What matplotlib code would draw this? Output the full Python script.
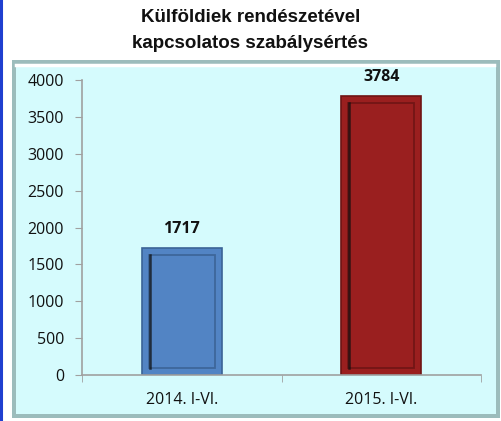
import matplotlib
matplotlib.use("Agg")
import matplotlib.pyplot as plt
from matplotlib.patches import Rectangle
import matplotlib.lines as mlines

categories = ["2014. I-VI.", "2015. I-VI."]
values = [1717, 3784]
bar_colors = ["#5284c4", "#9a1f1f"]
edge_colors = ["#3b6396", "#6e1414"]
yticks = [0, 500, 1000, 1500, 2000, 2500, 3000, 3500, 4000]
title_lines = ["Külföldiek rendészetével", "kapcsolatos szabálysértés"]

W, H = 501, 421
fig = plt.figure(figsize=(W / 100, H / 100), dpi=100)
fig.patch.set_facecolor("white")

# left blue border line
fig.add_artist(mlines.Line2D([1 / W, 1 / W], [0, 1], transform=fig.transFigure,
                             color="#1f3fd0", lw=2.2, zorder=-1))

# panel (beveled)
px0, py0, px1, py1 = 12, 3, 500, 361
shadow = Rectangle((px0 / W, py0 / H), (px1 - px0) / W, (py1 - py0) / H,
                   transform=fig.transFigure, facecolor="#9cbcbc", edgecolor="none", zorder=-3)
fig.add_artist(shadow)
panel = Rectangle(((px0 + 4) / W, (py0 + 4) / H), (px1 - px0 - 8) / W, (py1 - py0 - 8) / H,
                  transform=fig.transFigure, facecolor="#d5fbfd", edgecolor="none", zorder=-2)
fig.add_artist(panel)
hl = mlines.Line2D([(px0 + 4) / W, (px1 - 6) / W], [(py1 - 5) / H, (py1 - 5) / H],
                   transform=fig.transFigure, color="white", lw=2.5, zorder=-1)
fig.add_artist(hl)

for yy, line in zip([17, 44], title_lines):
    fig.text(0.5, 1 - yy / H, line, ha="center", va="center", fontsize=13.5,
             fontweight="bold", family="Liberation Sans", color="#111111")

ax = fig.add_axes([82 / W, (H - 375) / H, 399 / W, 295 / H])
ax.set_zorder(5)
ax.set_facecolor("none")
x = list(range(len(categories)))
bars = ax.bar(x, values, width=0.4, color=bar_colors, edgecolor=edge_colors, linewidth=1.2, zorder=2)
ax.set_xlim(-0.5, len(categories) - 0.5)
ax.set_ylim(0, 4000)
ax.set_yticks(yticks)
ax.set_yticklabels([str(t) for t in yticks])
ax.set_xticks(x)
ax.set_xticklabels(categories)
ax.set_xticks([-0.5, 0.5, 1.5], minor=True)
ax.tick_params(axis="x", which="major", length=0, pad=12)
ax.tick_params(axis="x", which="minor", length=5, color="#a0a0a0", direction="out")
ax.tick_params(axis="y", length=5, color="#a0a0a0", direction="out", pad=8)
for lab in ax.get_xticklabels() + ax.get_yticklabels():
    lab.set_fontfamily("Open Sans")
    lab.set_fontsize(11.5)
    lab.set_color("#111111")
for s in ["top", "right"]:
    ax.spines[s].set_visible(False)
for s in ["left", "bottom"]:
    ax.spines[s].set_color("#a0a0a0")
    ax.spines[s].set_linewidth(1.2)

# bevel inner frame for each bar (pixel inset)
fig.canvas.draw()
inv = ax.transData.inverted()
for b, ec in zip(bars, edge_colors):
    bb = b.get_window_extent()
    ins = 7
    (dx0, dy0) = inv.transform((bb.x0 + ins, bb.y0 + ins))
    (dx1, dy1) = inv.transform((bb.x1 - ins, bb.y1 - ins))
    r = Rectangle((dx0, dy0), dx1 - dx0, dy1 - dy0, facecolor="none",
                  edgecolor=ec, linewidth=1.3, alpha=0.9, zorder=3)
    ax.add_patch(r)
    (lx0, _) = inv.transform((bb.x0 + ins + 1, 0))
    ax.plot([lx0, lx0], [dy0, dy1], color="#101010", lw=1.8, alpha=0.75, zorder=4)

for xi, v in zip(x, values):
    ax.annotate(str(v), (xi, v), xytext=(0, 8), textcoords="offset points",
                ha="center", va="bottom", fontsize=11.5, fontweight="bold",
                family="Open Sans", color="#111111")

fig.savefig("out.png", dpi=100)
